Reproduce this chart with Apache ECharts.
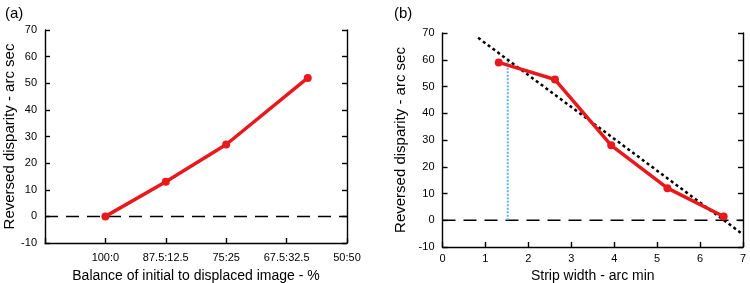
<!DOCTYPE html>
<html>
<head>
<meta charset="utf-8">
<script src="https://cdn.jsdelivr.net/npm/echarts@6/dist/echarts.min.js"></script>
<style>
  html, body { margin: 0; padding: 0; background: #fff; }
  #chart { width: 750px; height: 283px; }
</style>
</head>
<body>
<div id="chart"></div>
<script>
// panel (a): balance of initial to displaced image
var balanceLabels = ['100:0', '87.5:12.5', '75:25', '67.5:32.5', '50:50'];
var balanceX = [1, 2, 3, 4.35];          // position along the category ticks
var balanceY = [0, 13, 27, 52];

// panel (b): strip width
var stripX = [1.31, 2.62, 3.93, 5.24, 6.55];
var stripY = [59, 52.6, 28, 12, 1.4];
var fitLine = [[0.83, 68.2], [6.95, -4.7]];
var threshold = [[1.52, 0], [1.52, 60.4]];

var yTicks = { min: -10, max: 70, interval: 10 };

var FONT = 'Liberation Sans';
var RED = '#e8191c';

function zip(xs, ys) {
  return xs.map(function (x, i) { return [x, ys[i]]; });
}

function yAxes(grid) {
  var base = {
    type: 'value', gridIndex: grid,
    min: yTicks.min, max: yTicks.max, interval: yTicks.interval,
    splitLine: { show: false },
    axisLine: { show: true, lineStyle: { color: '#000', width: 1.4 } },
    axisTick: { show: true, inside: true, length: 5, lineStyle: { color: '#000', width: 1.4 } }
  };
  var left = Object.assign({}, base, {
    position: 'left',
    name: 'Reversed disparity - arc sec',
    nameLocation: 'middle',
    nameGap: grid === 0 ? 25 : 34,
    nameTextStyle: { fontFamily: FONT, fontSize: 15, color: '#000' },
    axisLabel: { fontFamily: FONT, fontSize: 11, color: '#000', margin: 8 }
  });
  var right = Object.assign({}, base, {
    position: 'right',
    axisLabel: { show: false }
  });
  return [left, right];
}

var chart = echarts.init(document.getElementById('chart'), null, { renderer: 'canvas' });

var option = {
  animation: false,
  backgroundColor: '#fff',
  title: [
    { text: '(a)', left: 0, top: 1, textStyle: { fontFamily: FONT, fontSize: 15, fontWeight: 'normal', color: '#000' } },
    { text: '(b)', left: 389, top: 1, textStyle: { fontFamily: FONT, fontSize: 15, fontWeight: 'normal', color: '#000' } }
  ],
  grid: [
    { left: 45, right: 403, top: 30, bottom: 40, outerBoundsMode: 'none' },
    { left: 442.5, right: 7, top: 33, bottom: 36, outerBoundsMode: 'none' }
  ],
  xAxis: [
    {
      type: 'value', gridIndex: 0, min: 0, max: 5, interval: 1,
      name: 'Balance of initial to displaced image - %',
      nameLocation: 'middle', nameGap: 26,
      nameTextStyle: { fontFamily: FONT, fontSize: 14, color: '#000' },
      splitLine: { show: false },
      axisLine: { onZero: false, lineStyle: { color: '#000', width: 1.4 } },
      axisTick: { inside: true, length: 5, lineStyle: { color: '#000', width: 1.4 } },
      axisLabel: {
        fontFamily: FONT, fontSize: 11, color: '#000', margin: 9,
        formatter: function (v) { return v >= 1 ? balanceLabels[v - 1] : ''; }
      }
    },
    {
      type: 'value', gridIndex: 1, min: 0, max: 7, interval: 1,
      name: 'Strip width - arc min',
      nameLocation: 'middle', nameGap: 20,
      nameTextStyle: { fontFamily: FONT, fontSize: 14, color: '#000' },
      splitLine: { show: false },
      axisLine: { onZero: false, lineStyle: { color: '#000', width: 1.4 } },
      axisTick: { inside: true, length: 5, lineStyle: { color: '#000', width: 1.4 } },
      axisLabel: { fontFamily: FONT, fontSize: 11, color: '#000', margin: 6 }
    }
  ],
  yAxis: yAxes(0).concat(yAxes(1)),
  series: [
    {
      type: 'line', xAxisIndex: 0, yAxisIndex: 0, silent: true,
      data: [[0, 0], [5, 0]], symbol: 'none',
      lineStyle: { color: '#000', width: 1.5, type: [13, 8] }
    },
    {
      type: 'line', xAxisIndex: 0, yAxisIndex: 0,
      data: zip(balanceX, balanceY),
      symbol: 'circle', symbolSize: 8,
      itemStyle: { color: RED },
      lineStyle: { color: RED, width: 3.5 }
    },
    {
      type: 'line', xAxisIndex: 1, yAxisIndex: 2, silent: true,
      data: [[0, 0], [7, 0]], symbol: 'none',
      lineStyle: { color: '#000', width: 1.5, type: [13, 8] }
    },
    {
      type: 'line', xAxisIndex: 1, yAxisIndex: 2, silent: true,
      data: threshold, symbol: 'none',
      lineStyle: { color: '#5fb4e6', width: 2, type: [2, 1.5] }
    },
    {
      type: 'line', xAxisIndex: 1, yAxisIndex: 2, silent: true,
      data: fitLine, symbol: 'none',
      lineStyle: { color: '#000', width: 2.5, type: [3, 3] }
    },
    {
      type: 'line', xAxisIndex: 1, yAxisIndex: 2,
      data: zip(stripX, stripY),
      symbol: 'circle', symbolSize: 8,
      itemStyle: { color: RED },
      lineStyle: { color: RED, width: 3.5 }
    }
  ]
};

chart.setOption(option);
</script>
</body>
</html>
